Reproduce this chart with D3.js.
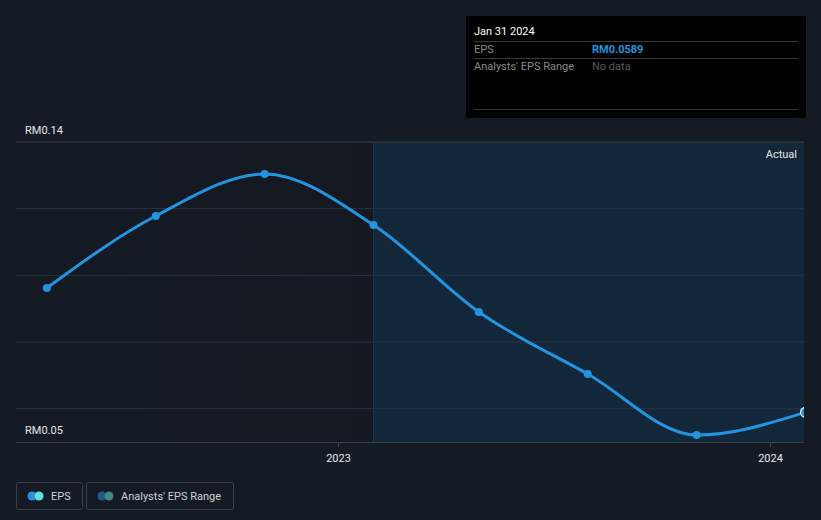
<!DOCTYPE html>
<html>
<head>
<meta charset="utf-8">
<script src="https://cdn.jsdelivr.net/npm/d3@7"></script>
<style>
  body { margin: 0; background: #151b24; font-family: Roboto, "Noto Sans", sans-serif; }
</style>
</head>
<body>
<div id="chart"></div>
<script>
// EPS history (quarter end dates, value in RM)
const dates = ["2022-04-30", "2022-07-31", "2022-10-31", "2023-01-31", "2023-04-30", "2023-07-31", "2023-10-31", "2024-01-31"];
const eps = [0.0962, 0.1178, 0.1304, 0.1151, 0.0890, 0.0704, 0.0521, 0.0589];
const yTickLabels = ["RM0.05", "RM0.14"];
const gridValues = [0.06, 0.08, 0.10, 0.12, 0.14];
const xTickYears = ["2023-01-01", "2024-01-01"];

const w = 821, h = 520;
const parse = d3.timeParse("%Y-%m-%d");
const data = dates.map((d, i) => ({ date: parse(d), v: eps[i] }));

const x = d3.scaleTime()
  .domain([parse("2023-01-01"), parse("2024-01-01")])
  .range([338, 770]);
const y = d3.scaleLinear().domain([0.05, 0.14]).range([442, 142]);

const left = 16, right = 804;
const split = x(parse("2023-01-31"));

const svg = d3.select("#chart").append("svg")
  .attr("width", w).attr("height", h);

const defs = svg.append("defs");
const g1 = defs.append("linearGradient").attr("id", "pastGrad")
  .attr("x1", "0").attr("x2", "1").attr("y1", "0").attr("y2", "0");
g1.append("stop").attr("offset", "0").attr("stop-color", "#151b24");
g1.append("stop").attr("offset", "1").attr("stop-color", "#131821");
defs.append("clipPath").attr("id", "plotClip")
  .append("rect").attr("x", 0).attr("y", 100).attr("width", right).attr("height", 360);

svg.append("rect")
  .attr("x", left).attr("y", 142).attr("width", split - left).attr("height", 300)
  .attr("fill", "url(#pastGrad)");
svg.append("rect")
  .attr("x", split).attr("y", 142).attr("width", right - split).attr("height", 300)
  .attr("fill", "#13273b");

// grid
svg.append("g").selectAll("line")
  .data(gridValues)
  .enter().append("line")
  .attr("x1", left).attr("x2", right)
  .attr("y1", d => y(d)).attr("y2", d => y(d))
  .attr("stroke", d => d === 0.14 ? "#3b4049" : "#2a3340")
  .attr("stroke-width", 1);

svg.append("line")
  .attr("x1", split).attr("x2", split).attr("y1", 142).attr("y2", 442)
  .attr("stroke", "#26313e");

// x axis
const xAxis = d3.axisBottom(x)
  .tickValues(xTickYears.map(parse))
  .tickFormat(d3.timeFormat("%Y"))
  .tickSize(5);
const ax = svg.append("g")
  .attr("transform", `translate(0, 442)`)
  .call(xAxis);
ax.select(".domain").remove();
ax.selectAll("line").attr("stroke", "#3b4049");
ax.selectAll("text").attr("fill", "#e6e6e6").attr("font-size", 11)
  .attr("font-family", "Roboto, sans-serif").attr("dy", "1.1em");
svg.append("line")
  .attr("x1", left).attr("x2", right).attr("y1", 442.5).attr("y2", 442.5)
  .attr("stroke", "#3b4049");

// y labels
svg.append("text").text(yTickLabels[1])
  .attr("x", 25).attr("y", 134).attr("fill", "#e6e6e6").attr("font-size", 11);
svg.append("text").text(yTickLabels[0])
  .attr("x", 25).attr("y", 434).attr("fill", "#e6e6e6").attr("font-size", 11);

svg.append("text").text("Actual")
  .attr("x", 797).attr("y", 158).attr("text-anchor", "end")
  .attr("fill", "#e6e6e6").attr("font-size", 11);

// line
const line = d3.line()
  .x(d => x(d.date)).y(d => y(d.v))
  .curve(d3.curveMonotoneX);
const plot = svg.append("g").attr("clip-path", "url(#plotClip)");
plot.append("path").datum(data)
  .attr("d", line)
  .attr("fill", "none")
  .attr("stroke", "#2394df")
  .attr("stroke-width", 3);

plot.append("g").selectAll("circle")
  .data(data)
  .enter().append("circle")
  .attr("cx", d => x(d.date)).attr("cy", d => y(d.v))
  .attr("r", (d, i) => i === data.length - 1 ? 5 : 4)
  .attr("fill", "#2394df")
  .attr("stroke", (d, i) => i === data.length - 1 ? "#e8f4ff" : "none")
  .attr("stroke-width", 1.2);

// tooltip
const tip = svg.append("g").attr("transform", "translate(466,16)");
tip.append("rect").attr("width", 340).attr("height", 102).attr("fill", "#000");
tip.append("text").text("Jan 31 2024").attr("x", 8).attr("y", 19)
  .attr("fill", "#fff").attr("font-size", 11);
[25.5, 42.5, 93.5].forEach(yy => {
  tip.append("line").attr("x1", 8).attr("x2", 332).attr("y1", yy).attr("y2", yy)
    .attr("stroke", "#3a3a3a");
});
tip.append("text").text("EPS").attr("x", 8).attr("y", 37)
  .attr("fill", "#8a8a8a").attr("font-size", 11);
tip.append("text").text("RM0.0589").attr("x", 126).attr("y", 37)
  .attr("fill", "#2394df").attr("font-size", 11).attr("font-weight", "bold");
tip.append("text").text("Analysts' EPS Range").attr("x", 8).attr("y", 54)
  .attr("fill", "#8a8a8a").attr("font-size", 11);
tip.append("text").text("No data").attr("x", 126).attr("y", 54)
  .attr("fill", "#5a5a5a").attr("font-size", 11);

// legend
const legend = [
  { label: "EPS", x: 16, w: 66, c1: "#2394df", c2: "#5ee0d8" },
  { label: "Analysts' EPS Range", x: 86, w: 147, c1: "#1e5a8a", c2: "#3f8a86" }
];
const lg = svg.append("g").selectAll("g").data(legend).enter().append("g")
  .attr("transform", d => `translate(${d.x},482)`);
lg.append("rect").attr("x", 0.5).attr("y", 0.5).attr("width", d => d.w).attr("height", 27)
  .attr("rx", 2).attr("fill", "none").attr("stroke", "#3a414b");
lg.append("circle").attr("cx", 16).attr("cy", 14).attr("r", 4.5).attr("fill", d => d.c1);
lg.append("circle").attr("cx", 23).attr("cy", 14).attr("r", 4.5).attr("fill", d => d.c2);
lg.append("text").text(d => d.label).attr("x", 35).attr("y", 18)
  .attr("fill", "#cfd2d6").attr("font-size", 11);
</script>
</body>
</html>
